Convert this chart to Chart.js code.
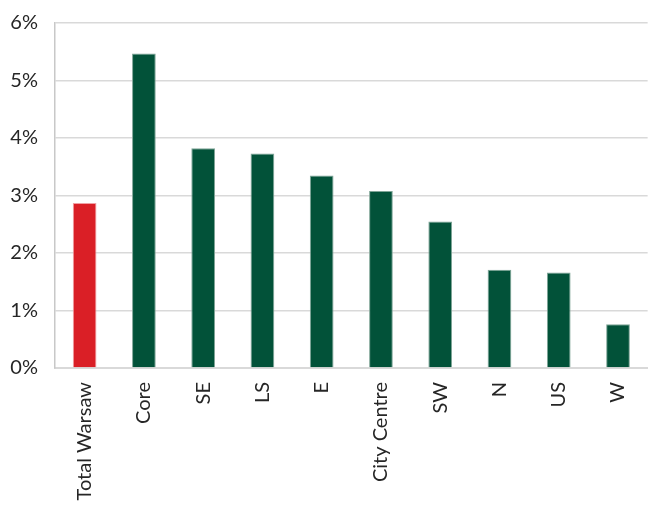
<!DOCTYPE html>
<html>
<head>
<meta charset="utf-8">
<script src="https://cdn.jsdelivr.net/npm/chart.js@4"></script>
<style>
  html, body { margin: 0; padding: 0; background: #fff; }
  #wrap { width: 648px; height: 508px; position: relative; }
</style>
</head>
<body>
<div id="wrap"><canvas id="chart"></canvas></div>
<script>
// dane (%)
const categories = ['Total Warsaw', 'Core', 'SE', 'LS', 'E', 'City Centre', 'SW', 'N', 'US', 'W'];
const values = [2.87, 5.47, 3.82, 3.73, 3.35, 3.08, 2.55, 1.71, 1.66, 0.76];
const yTicks = [0, 1, 2, 3, 4, 5, 6];

const RED = '#da1f26';
const GREEN = '#025239';

const barColors = categories.map((c, i) => i === 0 ? RED : GREEN);
const borderColors = categories.map((c, i) => i === 0 ? '#f0a0a4' : '#7fa597');

const font = { family: "'Lato', 'DejaVu Sans', sans-serif", size: 20 };

new Chart(document.getElementById('chart'), {
    type: 'bar',
    data: {
        labels: categories,
        datasets: [{
            data: values,
            backgroundColor: barColors,
            borderColor: borderColors,
            borderWidth: 1,
            barPercentage: 0.8,
            categoryPercentage: 0.5
        }]
    },
    options: {
        responsive: true,
        maintainAspectRatio: false,
        animation: false,
        layout: { padding: { top: 23, right: 0, left: 0, bottom: 0 } },
        plugins: {
            legend: { display: false },
            tooltip: { enabled: false }
        },
        scales: {
            x: {
                grid: { display: false },
                border: { color: '#d9d9d9', width: 2 },
                ticks: {
                    color: '#262626',
                    font: font,
                    minRotation: 90,
                    maxRotation: 90,
                    padding: 6
                },
                afterFit: s => { s.height = 140; }
            },
            y: {
                min: yTicks[0],
                max: yTicks[yTicks.length - 1],
                afterBuildTicks: s => { s.ticks = yTicks.map(v => ({ value: v })); },
                grid: { color: '#d9d9d9', lineWidth: 1.5, drawTicks: false },
                border: { color: '#c8c8c8', width: 1.5 },
                ticks: {
                    color: '#262626',
                    font: font,
                    padding: 17,
                    callback: v => v + '%'
                },
                afterFit: s => { s.width = 55; s.paddingTop = 0; s.paddingBottom = 0; }
            }
        }
    }
});
</script>
</body>
</html>
